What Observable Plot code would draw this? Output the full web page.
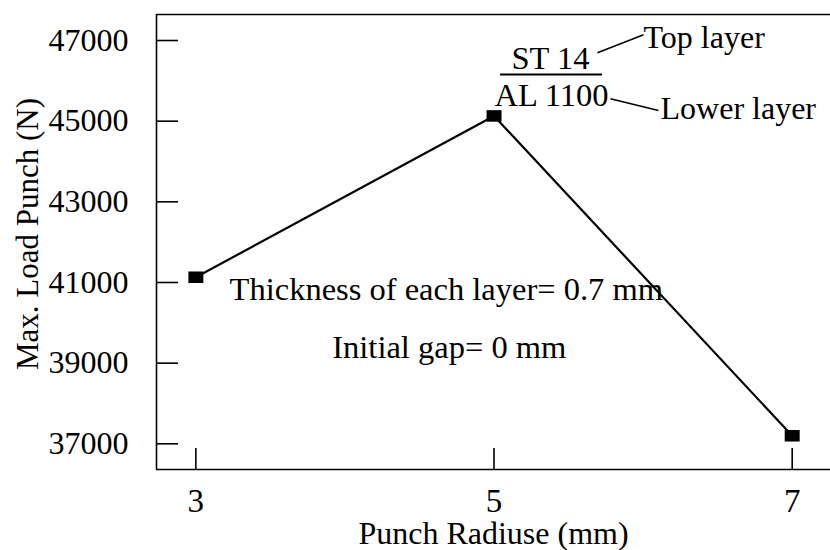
<!DOCTYPE html>
<html>
<head>
<meta charset="utf-8">
<script src="https://cdn.jsdelivr.net/npm/d3@7"></script>
<script src="https://cdn.jsdelivr.net/npm/@observablehq/plot@0.6"></script>
<style>
  html, body { margin: 0; padding: 0; background: #fff; }
  #chart { width: 830px; height: 550px; }
  #chart svg, #chart svg text, #chart svg g {
    font-family: "Liberation Serif", "Times New Roman", Times, serif !important;
    font-variant: normal !important;
  }
</style>
</head>
<body>
<div id="chart"></div>
<script>
// Data
const radius = [3, 5, 7];
const maxLoad = [41130, 45130, 37200];
const xTicks = [3, 5, 7];
const yTicks = [37000, 39000, 41000, 43000, 45000, 47000];
const xDomain = [2.736, 7.257];
const yDomain = [36363, 47645];
const xTitle = "Punch Radiuse (mm)";
const yTitle = "Max. Load Punch (N)";

// Annotations (data units)
const centerNotes = [
  {x: 4.68, y: 40830, text: "Thickness of each layer= 0.7 mm"},
  {x: 4.70, y: 39390, text: "Initial gap= 0 mm"},
  {x: 5.379, y: 46554, text: "ST 14"},
  {x: 5.386, y: 45637, text: "AL 1100"}
];
const sideNotes = [
  {x: 6.003, y: 47075, text: "Top layer"},
  {x: 6.117, y: 45314, text: "Lower layer"}
];
const leaders = [
  {x1: 5.694, y1: 46695, x2: 6.003, y2: 47142},
  {x1: 5.781, y1: 45555, x2: 6.103, y2: 45265}
];
const fraction = [{x1: 5.044, x2: 5.728, y: 46157}];

const data = radius.map((r, i) => ({r, load: maxLoad[i]}));
const font = "Liberation Serif, Times New Roman, Times, serif";

const rectSymbol = {
  draw(ctx, size) {
    const s = Math.sqrt(size);
    ctx.rect(-s * 0.65, -s * 0.5, s * 1.3, s);
  }
};

const chart = Plot.plot({
  width: 830,
  height: 550,
  marginLeft: 156,
  marginRight: 0,
  marginTop: 14,
  marginBottom: 81,
  style: {fontFamily: font, fontSize: "32px", background: "white", color: "black", overflow: "visible"},
  x: {domain: xDomain},
  y: {domain: yDomain},
  marks: [
    // frame lines: top, left, bottom
    Plot.ruleY([yDomain[1]], {stroke: "black", strokeWidth: 1.6}),
    Plot.ruleY([yDomain[0]], {stroke: "black", strokeWidth: 1.6}),
    Plot.ruleX([xDomain[0]], {stroke: "black", strokeWidth: 1.6}),
    Plot.axisY({ticks: yTicks, tickSize: -22, tickPadding: 50, tickFormat: d => String(d),
      label: null, fontSize: 32, fontFamily: font, fontVariant: "normal", strokeWidth: 1.6}),
    Plot.axisX({ticks: xTicks, tickSize: -21, tickPadding: 40, tickFormat: d => String(d),
      label: null, fontSize: 33, fontFamily: font, fontVariant: "normal", strokeWidth: 1.6}),
    Plot.text([xTitle], {frameAnchor: "bottom", text: d => d, textAnchor: "middle", lineAnchor: "bottom",
      dy: 74, fontSize: 32, fontFamily: font}),
    Plot.text([yTitle], {frameAnchor: "left", text: d => d, textAnchor: "middle", rotate: -90,
      lineAnchor: "bottom", dx: -119, dy: -8, fontSize: 31, fontFamily: font}),
    Plot.line(data, {x: "r", y: "load", stroke: "black", strokeWidth: 2.2}),
    Plot.dot(data, {x: "r", y: "load", symbol: rectSymbol, r: 6.5, fill: "black", stroke: null}),
    Plot.text(centerNotes, {x: "x", y: "y", text: "text", textAnchor: "middle", fontSize: 32.5, fontFamily: font, fill: "black"}),
    Plot.text(sideNotes, {x: "x", y: "y", text: "text", textAnchor: "start", fontSize: 32, fontFamily: font, fill: "black"}),
    Plot.link(leaders, {x1: "x1", y1: "y1", x2: "x2", y2: "y2", stroke: "black", strokeWidth: 1.5}),
    Plot.ruleY(fraction, {x1: "x1", x2: "x2", y: "y", stroke: "black", strokeWidth: 2})
  ]
});
document.getElementById("chart").appendChild(chart);
</script>
</body>
</html>
